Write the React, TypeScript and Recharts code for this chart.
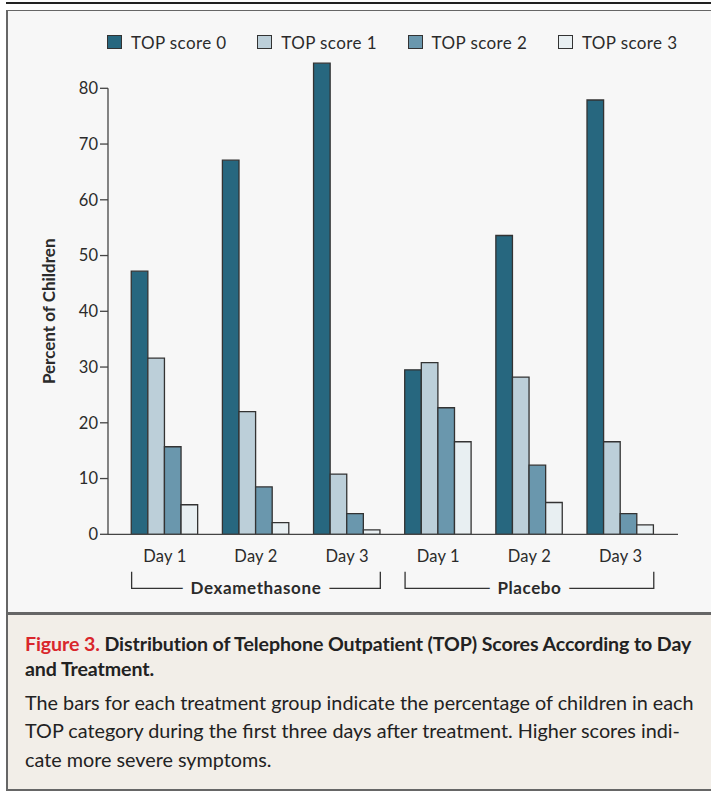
import React from "react";
import { BarChart, Bar, XAxis, YAxis, Legend, ReferenceLine } from "recharts";

// categories
const treatments = ["Dexamethasone", "Placebo"];
const days = ["Day 1", "Day 2", "Day 3"];

// series (percent of children), order: Dex D1-D3, Placebo D1-D3
const seriesNames = ["TOP score 0", "TOP score 1", "TOP score 2", "TOP score 3"];
const seriesColors = ["#27677f", "#bccfd9", "#6a97ad", "#e8eff2"];
const score0 = [47.2, 67.1, 84.5, 29.5, 53.6, 77.9];
const score1 = [31.6, 22.0, 10.8, 30.8, 28.2, 16.6];
const score2 = [15.7, 8.5, 3.7, 22.7, 12.4, 3.7];
const score3 = [5.3, 2.1, 0.8, 16.6, 5.7, 1.7];
const scores = [score0, score1, score2, score3];

const yTicks = [0, 10, 20, 30, 40, 50, 60, 70, 80];
const yMax = 86;

const data = treatments.flatMap((t, ti) =>
  days.map((d, di) => {
    const i = ti * 3 + di;
    return {
      key: `${t} ${d}`,
      treatment: t,
      day: d,
      s0: score0[i],
      s1: score1[i],
      s2: score2[i],
      s3: score3[i],
    };
  })
);

// layout
const W = 711;
const CHART_H = 612;
const MARGIN = { top: 24.85, right: 33, bottom: 12.7, left: 48 };
const Y_AXIS_W = 60;
const X_AXIS_H = 65;
const PAD = { left: 11.25, right: 11.85 };
const BAR = 16.6;
const PLOT_W = W - MARGIN.left - MARGIN.right - Y_AXIS_W;
const BAND = (PLOT_W - PAD.left - PAD.right) / data.length;

const FONT = "Lato, 'Open Sans', sans-serif";
const INK = "#2b2b2b";
const CHART_BG = "#f7f7f7";
const CAPTION_BG = "#f2eee8";
const BORDER = "#666";

function LegendContent(props: any) {
  const items = props.payload || [];
  return (
    <div
      style={{
        display: "flex",
        paddingLeft: 107,
        paddingTop: 10,
        height: 30,
        boxSizing: "border-box",
        fontFamily: FONT,
      }}
    >
      {items.map((it: any) => (
        <div key={it.value} style={{ width: 150.3, display: "flex", alignItems: "center", height: 15 }}>
          <span
            style={{
              width: 15,
              height: 14,
              boxSizing: "border-box",
              background: it.color,
              border: "1.5px solid #333",
              display: "inline-block",
            }}
          />
          <span style={{ marginLeft: 9, fontSize: 17, lineHeight: "15px", color: INK, letterSpacing: 0.4 }}>
            {it.value}
          </span>
        </div>
      ))}
    </div>
  );
}

function DayTick(props: any) {
  const { x, y, index } = props;
  const row = data[index];
  if (!row) return null;
  const half = BAND + (BAR * 4) / 2;
  return (
    <g>
      <text x={x} y={y + 27.4} textAnchor="middle" fontFamily={FONT} fontSize={16.5} fill={INK} letterSpacing={0.2}>
        {row.day}
      </text>
      {index % 3 === 1 && (
        <g>
          <path
            d={`M${x - half},${y + 37.4}V${y + 54}H${x + half}V${y + 37.4}`}
            fill="none"
            stroke="#333"
            strokeWidth={1.3}
          />
          <text
            x={x}
            y={y + 59.7}
            textAnchor="middle"
            fontFamily={FONT}
            fontSize={17}
            fontWeight="bold"
            letterSpacing={0.6}
            fill={INK}
            stroke={CHART_BG}
            strokeWidth={18}
            strokeLinejoin="round"
            paintOrder="stroke"
          >
            {row.treatment}
          </text>
        </g>
      )}
    </g>
  );
}

function YLabel(props: any) {
  const vb = props.viewBox;
  if (!vb) return null;
  const cx = vb.x + 7;
  const cy = vb.y + vb.height * (1 - 40 / yMax);
  return (
    <text
      x={cx}
      y={cy}
      transform={`rotate(-90 ${cx} ${cy})`}
      textAnchor="middle"
      fontFamily={FONT}
      fontSize={17}
      fontWeight="bold"
      fill={INK}
    >
      Percent of Children
    </text>
  );
}

export default function App() {
  return (
    <div style={{ position: "absolute", left: 0, top: 0, width: W, height: 792, background: "#fff", overflow: "hidden" }}>
      {/* top rule */}
      <div style={{ position: "absolute", left: 6, top: 2, width: W, height: 1.5, background: "#222" }} />
      {/* framed box */}
      <div
        style={{
          position: "absolute",
          left: 6,
          top: 9.5,
          width: W,
          height: 781,
          boxSizing: "border-box",
          borderLeft: `2px solid ${BORDER}`,
          borderTop: `1.8px solid ${BORDER}`,
          borderBottom: `2px solid ${BORDER}`,
          background: CAPTION_BG,
        }}
      />
      <div style={{ position: "absolute", left: 8, top: 11.3, width: W, height: 600.7, background: CHART_BG }} />
      <div style={{ position: "absolute", left: 8, top: 612, width: W, height: 2.5, background: BORDER }} />

      <div style={{ position: "absolute", left: 0, top: 0 }}>
        <BarChart width={W} height={CHART_H} data={data} margin={MARGIN} barGap={0} barSize={BAR}>
          <Legend
            verticalAlign="top"
            content={<LegendContent />}
            wrapperStyle={{ left: 0, width: W }}
          />
          <XAxis
            dataKey="key"
            height={X_AXIS_H}
            padding={PAD}
            interval={0}
            tickSize={0}
            tickMargin={0}
            tickLine={false}
            axisLine={{ stroke: "#444", strokeWidth: 1.3 }}
            tick={<DayTick />}
          />
          <XAxis xAxisId="frame" type="number" domain={[0, 1]} hide />
          <YAxis
            width={Y_AXIS_W}
            domain={[0, yMax]}
            ticks={yTicks}
            interval={0}
            tickSize={8}
            tickMargin={2}
            axisLine={false}
            tickLine={{ stroke: "#444", strokeWidth: 1.3 }}
            tick={{ fill: INK, fontSize: 16.5, fontFamily: FONT }}
            label={<YLabel />}
          />
          <ReferenceLine
            xAxisId="frame"
            segment={[
              { x: 0, y: 0 },
              { x: 0, y: yTicks[yTicks.length - 1] },
            ]}
            stroke="#444"
            strokeWidth={1.3}
          />
          {scores.map((_, i) => (
            <Bar
              key={seriesNames[i]}
              dataKey={`s${i}`}
              name={seriesNames[i]}
              fill={seriesColors[i]}
              stroke="#333"
              strokeWidth={1.3}
              isAnimationActive={false}
            />
          ))}
        </BarChart>
      </div>

      {/* caption */}
      <div
        style={{
          position: "absolute",
          left: 25,
          top: 631,
          fontFamily: FONT,
          color: "#222",
          whiteSpace: "nowrap",
        }}
      >
        <div style={{ fontSize: 19.6, fontWeight: "bold", lineHeight: "25px", letterSpacing: -0.1 }}>
          <span style={{ color: "#d9262c" }}>Figure 3.</span> Distribution of Telephone Outpatient (TOP) Scores According to Day
        </div>
        <div style={{ fontSize: 19.6, fontWeight: "bold", lineHeight: "25px", letterSpacing: -0.1 }}>and Treatment.</div>
        <div style={{ fontSize: 19.8, lineHeight: "28.3px", marginTop: 7 }}>
          <div>The bars for each treatment group indicate the percentage of children in each</div>
          <div>TOP category during the first three days after treatment. Higher scores indi-</div>
          <div>cate more severe symptoms.</div>
        </div>
      </div>
    </div>
  );
}
